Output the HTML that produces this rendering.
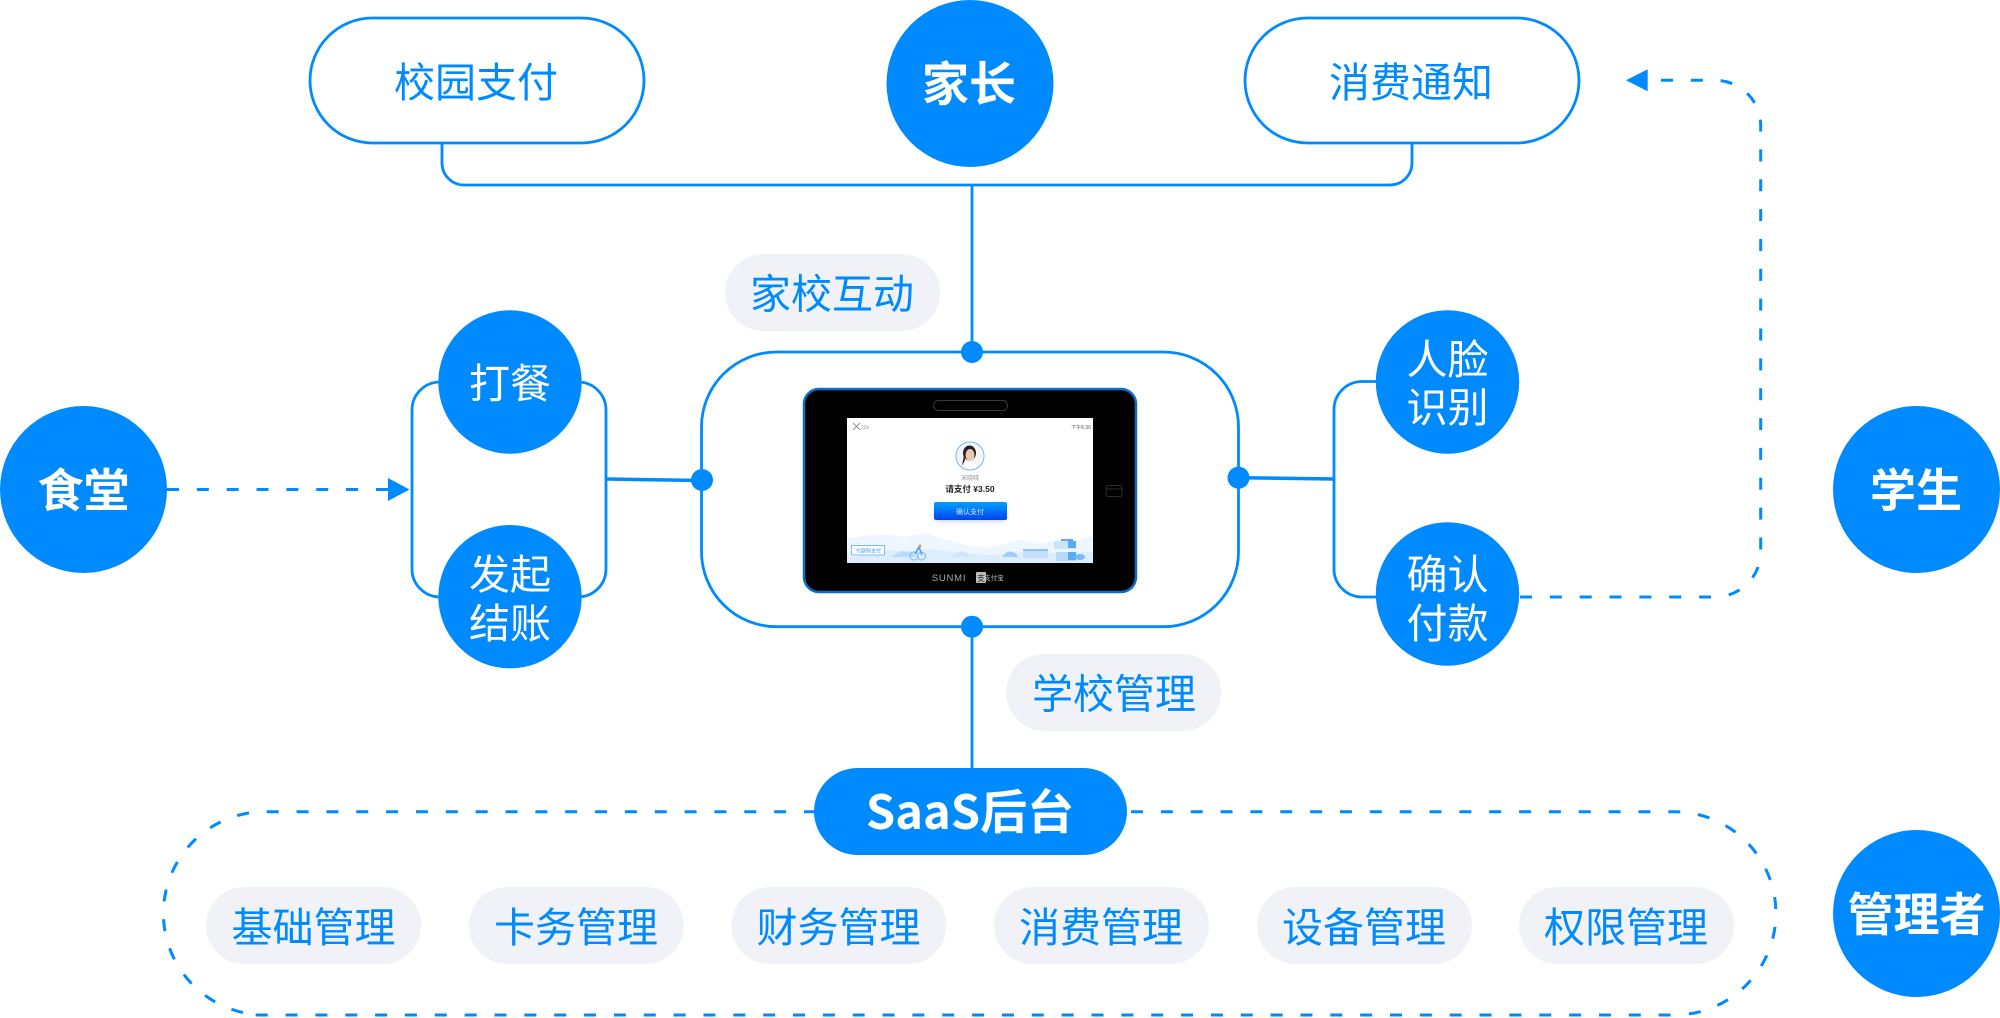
<!DOCTYPE html>
<html lang="zh-CN">
<head>
<meta charset="utf-8">
<title>校园支付</title>
<style>
html,body{margin:0;padding:0;background:#fff;width:2000px;height:1018px;overflow:hidden}
svg{display:block;position:absolute;left:0;top:0}
text{font-family:"Liberation Sans","Noto Sans CJK SC",sans-serif;text-anchor:middle}
.b{font-family:"Noto Sans CJK SC","Liberation Sans",sans-serif;font-weight:700;fill:#fff}
.w{font-family:"Noto Sans CJK SC","Liberation Sans",sans-serif;font-weight:400;fill:#fff;font-size:41px}
.t{font-family:"Noto Sans CJK SC","Liberation Sans",sans-serif;font-weight:400;fill:#008aff;font-size:41px}
.l{fill:none;stroke:#008aff;stroke-width:2.8}
.d{fill:none;stroke:#008aff;stroke-width:3;stroke-dasharray:12 17.85}
</style>
</head>
<body>
<svg width="2000" height="1018" viewBox="0 0 2000 1018" xmlns="http://www.w3.org/2000/svg">
<defs>
<linearGradient id="btn" x1="0" y1="0" x2="0" y2="1"><stop offset="0" stop-color="#00a2ff"/><stop offset="1" stop-color="#0043f0"/></linearGradient>
<filter id="sh" x="-30%" y="-50%" width="160%" height="220%"><feGaussianBlur stdDeviation="3"/></filter>
<clipPath id="scr"><rect x="847" y="418" width="246" height="145"/></clipPath>
<clipPath id="av"><circle cx="970" cy="456" r="12.5"/></clipPath>
</defs>

<!-- top capsules and connectors -->
<rect class="l" x="310" y="18" width="334" height="125" rx="62.5"/>
<rect class="l" x="1245" y="18" width="334" height="125" rx="62.5"/>
<path class="l" d="M442 143V163A22 22 0 0 0 464 185H1390A22 22 0 0 0 1412 163V143"/>
<path class="l" d="M972 185V352"/>
<circle cx="970" cy="83.5" r="83.5" fill="#008aff"/>

<!-- central frame -->
<rect class="l" x="701.5" y="352" width="537" height="274.7" rx="75"/>
<path class="l" d="M972 627V768"/>

<!-- left bracket -->
<path class="l" d="M439 382H440A28 28 0 0 0 412 410V569A28 28 0 0 0 440 597H578A28 28 0 0 0 606 569V410A28 28 0 0 0 578 382"/>
<path d="M607 479L702 480.500" fill="none" stroke="#008aff" stroke-width="3.500"/>
<circle cx="702" cy="480" r="11" fill="#008aff"/>
<circle cx="972" cy="352" r="11" fill="#008aff"/>
<circle cx="972" cy="626.700" r="11" fill="#008aff"/>
<circle cx="1238.500" cy="477.700" r="11" fill="#008aff"/>

<!-- right bracket -->
<path class="l" d="M1376 381.500H1362A28 28 0 0 0 1334 409.500V569A28 28 0 0 0 1362 597H1376"/>
<path d="M1238.500 477.700L1334 479" fill="none" stroke="#008aff" stroke-width="3.500"/>

<!-- circles -->
<circle cx="510" cy="382" r="71.700" fill="#008aff"/>
<circle cx="510" cy="596.700" r="71.700" fill="#008aff"/>
<circle cx="1447.500" cy="382" r="71.700" fill="#008aff"/>
<circle cx="1447.500" cy="594" r="71.700" fill="#008aff"/>
<circle cx="83.500" cy="489.500" r="83.500" fill="#008aff"/>
<circle cx="1916.500" cy="489.500" r="83.500" fill="#008aff"/>
<circle cx="1916.500" cy="913.500" r="83.500" fill="#008aff"/>

<!-- dashed arrows -->
<path class="d" d="M167 489.500H390"/>
<path d="M409.500 489.500L388 478V501Z" fill="#008aff"/>
<path class="d" d="M1520 597H1715A45.700 45 0 0 0 1760.700 552V125.300A45.700 45 0 0 0 1715 80.300H1650"/>
<path d="M1626 80.300L1647.700 69.300V91.300Z" fill="#008aff"/>

<!-- dashed capsule -->
<path class="d" d="M816 811.700H265.400A101.650 101.650 0 0 0 255 1014.500"/>
<path class="d" d="M255.700 1015H1672"/>
<path class="d" d="M1131 811.700H1674.350A101.650 101.650 0 0 1 1674.350 1015"/>

<!-- SaaS pill -->
<rect x="814" y="768" width="313" height="87" rx="43.500" fill="#008aff"/>

<!-- grey pills -->
<g fill="#f0f2f8">
<rect x="725" y="254" width="215" height="77" rx="38.500"/>
<rect x="1006" y="654" width="215" height="77" rx="38.500"/>
<rect x="206" y="887" width="215" height="77" rx="38.500"/>
<rect x="469" y="887" width="215" height="77" rx="38.500"/>
<rect x="731.500" y="887" width="215" height="77" rx="38.500"/>
<rect x="994" y="887" width="215" height="77" rx="38.500"/>
<rect x="1257" y="887" width="215" height="77" rx="38.500"/>
<rect x="1519" y="887" width="215" height="77" rx="38.500"/>
</g>

<!-- labels -->
<text class="t" x="476" y="97">校园支付</text>
<text class="t" x="1411" y="97">消费通知</text>
<text class="t" x="832" y="308.500">家校互动</text>
<text class="t" x="1114" y="708.500">学校管理</text>
<text class="t" x="313.500" y="942">基础管理</text>
<text class="t" x="576" y="942">卡务管理</text>
<text class="t" x="838.500" y="942">财务管理</text>
<text class="t" x="1101" y="942">消费管理</text>
<text class="t" x="1364" y="942">设备管理</text>
<text class="t" x="1626" y="942">权限管理</text>

<text class="b" x="969" y="101" font-size="47">家长</text>
<text class="b" x="83.500" y="507" font-size="46">食堂</text>
<text class="b" x="1916" y="507" font-size="46">学生</text>
<text class="b" x="1916.500" y="931" font-size="46">管理者</text>
<text class="b" x="970" y="829" font-size="47">SaaS后台</text>

<text class="w" x="510" y="398">打餐</text>
<text class="w" x="510" y="589">发起</text>
<text class="w" x="510" y="638">结账</text>
<text class="w" x="1447.500" y="374">人脸</text>
<text class="w" x="1447.500" y="422">识别</text>
<text class="w" x="1447.500" y="589">确认</text>
<text class="w" x="1447.500" y="638">付款</text>

<!-- tablet -->
<rect x="804" y="389" width="332" height="203" rx="15" fill="#000" stroke="#0a6fc9" stroke-width="2.500"/>
<rect x="933.500" y="400.500" width="74" height="10" rx="5" fill="none" stroke="#3a3a3a" stroke-width="1"/>
<rect x="1106" y="485.500" width="16" height="11" rx="2" fill="none" stroke="#2c2c2c" stroke-width="1"/>
<path d="M1106 489H1122" stroke="#2c2c2c" stroke-width="1"/>
<rect x="847" y="418" width="246" height="145" fill="#fff"/>
<g clip-path="url(#scr)">
<path d="M847 538L862 536L885 534L905 537L925 533L945 540L965 545L985 548L1005 544L1020 540L1040 544L1060 540L1075 541L1093 536V563H847Z" fill="#eef6ff"/>
<path d="M847 558L870 554L890 550L905 552L930 549L960 553L990 555L1030 552L1060 553L1093 552V563H847Z" fill="#dcedfe"/>
<path d="M892 557Q900 549 908 552Q912 550 916 557Z" fill="#b9dbfc"/>
<path d="M952 557Q958 550 964 552Q968 552 970 557Z" fill="#cde5fd"/>
<path d="M1002 557Q1007 550 1012 552Q1016 552 1018 557Z" fill="#9dcdfa"/>
<circle cx="914" cy="556" r="4" fill="none" stroke="#7ab8f7" stroke-width="1"/>
<circle cx="921.500" cy="556" r="4" fill="none" stroke="#7ab8f7" stroke-width="1"/>
<path d="M915 554L919 547L922 555" fill="none" stroke="#4a9bf2" stroke-width="1.500"/>
<circle cx="920" cy="546" r="1.500" fill="#e8956f"/>
<rect x="1023" y="549" width="25" height="9" fill="#c4e0fc"/>
<rect x="1023" y="549" width="25" height="2" fill="#8fc4f8"/>
<rect x="1054" y="541" width="22" height="8" fill="#cbe4fc"/>
<rect x="1056" y="552" width="20" height="9" fill="#b6d9fb"/>
<rect x="1068" y="541" width="8" height="7" fill="#5aaaf4"/>
<rect x="1068" y="552" width="8" height="8" fill="#5aaaf4"/>
<rect x="1061" y="539" width="12" height="2" fill="#5aaaf4"/>
<ellipse cx="1080" cy="557" rx="5" ry="3" fill="#7ab8f7"/>
</g>
<path d="M853 423L860 430M860 423L853 430" stroke="#777" stroke-width="0.800"/>
<text x="865" y="429" font-size="5" fill="#999">20s</text>
<text x="1081" y="429" font-size="5" fill="#555">下午6:30</text>
<circle cx="970" cy="456" r="14" fill="#fff" stroke="#6bb6fb" stroke-width="1"/>
<g clip-path="url(#av)">
<rect x="957" y="443" width="26" height="26" fill="#f4f4f4"/>
<path d="M962 470Q964 462 970 462Q976 462 978 470Z" fill="#fff"/>
<ellipse cx="969.500" cy="453" rx="6.500" ry="7.500" fill="#222"/>
<ellipse cx="970" cy="455" rx="4.500" ry="6" fill="#eec7b2"/>
<path d="M964 455L962 466L965 460Z" fill="#222"/>
</g>
<text x="970" y="480" font-size="6" fill="#8f8f8f">宋晓晓</text>
<text x="970" y="492" font-size="8.500" font-weight="700" fill="#222">请支付 ¥3.50</text>
<rect x="936" y="506" width="69" height="15" rx="3" fill="#3b6cf0" opacity=".35" filter="url(#sh)"/>
<rect x="934" y="502" width="73" height="18" rx="2" fill="url(#btn)"/>
<text x="970" y="514" font-size="7" fill="#cfe6ff">确认支付</text>
<rect x="851.500" y="545.500" width="33" height="9.500" fill="#fff" stroke="#7bbcf8" stroke-width="1"/>
<text x="868.500" y="552.500" font-size="5" fill="#3d94ef">付款码支付</text>
<text x="949" y="581" font-size="9.500" font-weight="400" fill="#a8a8a8" style="font-family:'Liberation Sans',sans-serif;letter-spacing:.8px">SUNMI</text>
<rect x="976" y="572" width="10" height="11" rx="1" fill="#bdbdbd"/>
<text x="981" y="581" font-size="8" fill="#222">支</text>
<text x="994" y="580" font-size="6.500" fill="#bdbdbd">支付宝</text>
</svg>
</body>
</html>
